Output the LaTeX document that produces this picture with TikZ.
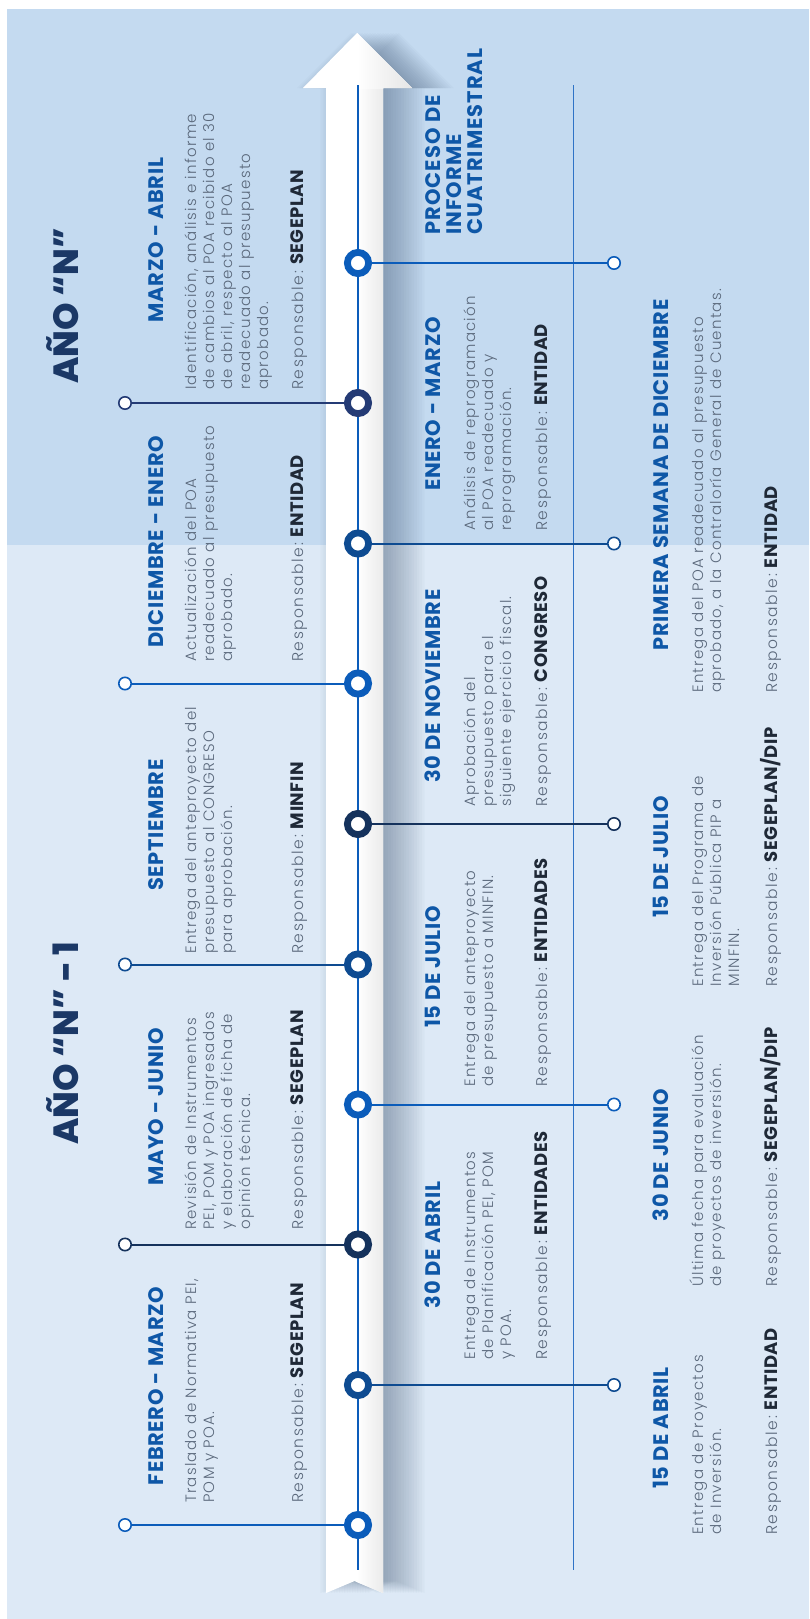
\documentclass[tikz,border=0pt]{standalone}
\usepackage{fontspec}
\setmainfont{Poppins}
\IfFontExistsTF{Poppins Light}{%
  \newfontfamily\bodyfam{Poppins Light}[LetterSpace=8.5]%
  \newfontfamily\labfam{Poppins Light}[LetterSpace=10]}{%
  \newfontfamily\bodyfam{Poppins}[LetterSpace=8.5]%
  \newfontfamily\labfam{Poppins}[LetterSpace=10]}
\newfontfamily\headfam{Poppins}[LetterSpace=3]
\newfontfamily\procfam{Poppins}[LetterSpace=5]
\newfontfamily\respfam{Poppins}[LetterSpace=3]
\IfFontExistsTF{Poppins ExtraBold}{\newfontfamily\titlefam{Poppins ExtraBold}}{\newfontfamily\titlefam{Poppins}[UprightFont=*-Bold]}
\definecolor{bgtop}{HTML}{C4DAF0}
\definecolor{bgbot}{HTML}{DDE9F6}
\definecolor{cbright}{HTML}{0B5CBA}
\definecolor{cnavy}{HTML}{243B75}
\definecolor{cdark}{HTML}{0E4B91}
\definecolor{cvdark}{HTML}{15325C}
\definecolor{headblue}{HTML}{0E57A7}
\definecolor{titlenavy}{HTML}{1B3866}
\definecolor{bodygray}{HTML}{5A687B}
\definecolor{respdark}{HTML}{1F2937}
\definecolor{thinline}{HTML}{2F73C6}
\definecolor{shadowc}{HTML}{3D5470}
\newcommand{\resp}[1]{{\labfam\fontsize{15.5}{18}\selectfont Responsable:}\hspace{6pt}\textcolor{respdark}{\respfam\bfseries\fontsize{18}{18}\selectfont #1}}
\newcommand{\evt}[9]{%
  \node[headtxt] (#1h) at (#2,#3) {#4};
  \node[bodytxt] (#1b) at (#5,#6) {\begin{tabular}[t]{@{}l@{}}#7\end{tabular}};
  \node[bodytxt] (#1r) at (#8,#6) {\resp{#9}};
}
\def\arrowpath{(326,1593) -- (326,88) -- (303,88) -- (357,33) -- (412,88) -- (383,88) -- (383,1593) -- (354.5,1581) -- cycle}
\begin{document}
\begin{tikzpicture}[x=1pt,y=-1pt,
  headtxt/.style={rotate=90, anchor=base, inner sep=0pt, text=headblue, font=\headfam\bfseries\fontsize{21}{21}\selectfont},
  bodytxt/.style={rotate=90, anchor=base west, inner sep=0pt, text=bodygray, font=\bodyfam\fontsize{15}{18}\selectfont},
  titletxt/.style={rotate=90, anchor=base, inner sep=0pt, text=titlenavy, font=\titlefam\fontsize{35}{40}\selectfont},
  bigdot/.style={circle, fill=white, line width=6.8pt, minimum size=21.2pt, inner sep=0pt},
  smalldot/.style={circle, fill=white, line width=1.6pt, minimum size=12.4pt, inner sep=0pt},
  conn/.style={line width=2pt},
  axisline/.style={draw=cbright, line width=2.8pt},
  thin/.style={draw=thinline, line width=1.2pt}]
\useasboundingbox (0,0) rectangle (809,1619);
% background
\fill[white] (0,0) rectangle (809,1619);
\fill[bgtop] (7,9) rectangle (809,545);
\fill[bgbot] (7,545) rectangle (809,1619);
% arrow shadow
\foreach \k in {1,...,16} {
  \fill[shadowc, opacity=0.03, xshift=2.6*\k pt] \arrowpath;
}
\foreach \k in {1,...,4} {
  \fill[shadowc, opacity=0.02, xshift=-1.5*\k pt] \arrowpath;
}
% arrow
\fill[white] \arrowpath;
\begin{scope}
  \clip \arrowpath;
  \shade[left color=white, right color=black!8] (357,86) rectangle (383,1600);
  \shade[left color=white, right color=black!10] (357,30) rectangle (412,88.5);
\end{scope}
% lines
\coordinate (vtop) at (573.5,85);
\coordinate (vbot) at (573.5,1570);
\draw[thin] (vtop) -- (vbot);
\coordinate (axtop) at (358,85);
\coordinate (axbot) at (358,1570);
\draw[axisline] (axtop) -- (axbot);
% circles and connectors
\foreach \i/\y/\sx/\c in {1/263/614/cbright, 2/403/125/cnavy, 3/543.5/614/cdark, 4/683.5/125/cbright, 5/824/614/cvdark, 6/964.5/125/cdark, 7/1104.5/614/cbright, 8/1244.5/125/cvdark, 9/1385/614/cdark, 10/1525/125/cbright} {
  \node[bigdot, draw=\c] (c\i) at (358,\y) {};
  \node[smalldot, draw=\c] (s\i) at (\sx,\y) {};
  \draw[conn, draw=\c] (c\i) -- (s\i);
}
% titles
\node[titletxt] (t1) at (78,306) {AÑO “N”};
\node[titletxt] (t2) at (78,1043) {AÑO “N” - 1};
% left events
\evt{L1}{163}{240}{MARZO - ABRIL}{196}{390}{Identificación, análisis e informe\\de cambios al POA recibido el 30\\de abril, respecto al POA\\readecuado al presupuesto\\aprobado.}{303}{SEGEPLAN}
\evt{L2}{163}{542}{DICIEMBRE - ENERO}{196}{662}{Actualización del POA\\readecuado al presupuesto\\aprobado.}{303}{ENTIDAD}
\evt{L3}{163}{825}{SEPTIEMBRE}{196}{954}{Entrega del anteproyecto del\\presupuesto al CONGRESO\\para aprobación.}{303}{MINFIN}
\evt{L4}{163}{1107}{MAYO - JUNIO}{196}{1230}{Revisión de Instrumentos\\PEI, POM y POA ingresados\\y elaboración de ficha de\\opinión técnica.}{303}{SEGEPLAN}
\evt{L5}{163}{1386}{FEBRERO - MARZO}{196}{1503}{Traslado de Normativa PEI,\\POM y POA.}{303}{SEGEPLAN}
% right column A
\node[headtxt, anchor=base west, font=\procfam\bfseries\fontsize{21}{20.5}\selectfont] (proc) at (440,235) {\begin{tabular}[t]{@{}l@{}}PROCESO DE\\INFORME\\CUATRIMESTRAL\end{tabular}};
\evt{A1}{440}{404}{ENERO - MARZO}{475}{531}{Análisis de reprogramación\\al POA readecuado y\\reprogramación.}{547.5}{ENTIDAD}
\evt{A2}{440}{686}{30 DE NOVIEMBRE}{475}{807}{Aprobación del\\presupuesto para el\\siguiente ejercicio fiscal.}{547.5}{CONGRESO}
\evt{A3}{440}{967}{15 DE JULIO}{475}{1087}{Entrega del anteproyecto\\de presupuesto a MINFIN.}{547.5}{ENTIDADES}
\evt{A4}{440}{1245}{30 DE ABRIL}{475}{1360}{Entrega de Instrumentos\\de Planificación PEI, POM\\y POA.}{547.5}{ENTIDADES}
% right column B
\evt{B1}{668}{475}{PRIMERA SEMANA DE DICIEMBRE}{703}{693}{Entrega del POA readecuado al presupuesto\\aprobado, a la Contraloría General de Cuentas.}{777}{ENTIDAD}
\evt{B2}{668}{857}{15 DE JULIO}{703}{987}{Entrega del Programa de\\Inversión Pública PIP a\\MINFIN.}{777}{SEGEPLAN/DIP}
\evt{B3}{668}{1155}{30 DE JUNIO}{703}{1287}{Última fecha para evaluación\\de proyectos de inversión.}{777}{SEGEPLAN/DIP}
\evt{B4}{668}{1428}{15 DE ABRIL}{703}{1535}{Entrega de Proyectos\\de Inversión.}{777}{ENTIDAD}
\end{tikzpicture}
\end{document}
